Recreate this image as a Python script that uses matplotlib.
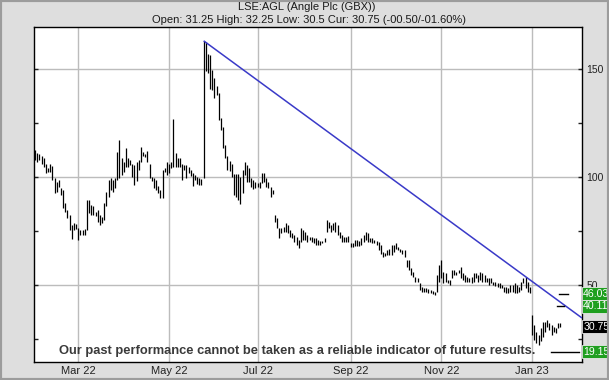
import numpy as np
import pandas as pd
import matplotlib
matplotlib.use('Agg')
import matplotlib.pyplot as plt
import matplotlib.transforms as mtransforms
from matplotlib.patches import Rectangle

# daily bars (high, low) per month
bars_feb = [(112.5, 107.9), (111, 107), (110.7, 107.9), (110, 106), (108.7, 104.8),
            (106, 102), (104, 102.5), (106, 102.5), (105, 98.7), (99.4, 92.5),
            (97.9, 93.3), (98.7, 95.6), (94.8, 91.7), (94.1, 85.6), (87.9, 84),
            (84.8, 81), (82.5, 75.6), (77.9, 71.3), (78.7, 75.6), (78.3, 75.9)]
bars_mar = [(76.3, 71), (75.6, 73.3), (75.6, 73.3), (75.8, 73.3), (89.4, 75.6),
            (89.4, 83.3), (87.1, 82.5), (86.4, 82.5), (84, 81.8), (84.8, 79.4),
            (82.5, 77.9), (81.7, 78.7), (87.9, 80.2), (93.3, 86.4), (98.7, 91),
            (99.4, 94.1), (98.7, 93.3), (99.4, 94.8), (111.8, 98.7), (117.1, 99.4),
            (108.7, 100.9), (107.2, 102.5), (113.3, 104.8)]
bars_apr = [(108.7, 104.8), (107.9, 105.6), (106.2, 100.1), (105.5, 96.2), (107, 98),
            (107.8, 103.2), (114, 107), (111.6, 109.6), (110.8, 109.3), (112, 107),
            (106, 99.5), (100, 98), (99.6, 95), (98.8, 94.2), (95.7, 92.7),
            (94.2, 90.4), (103.4, 90.4), (104, 102.5), (107, 101)]
bars_may = [(106.2, 101.8), (107, 104), (127, 104.8), (111, 104.8), (108.7, 104.8),
            (108.7, 104.8), (106.2, 98.7), (105.5, 103.2), (105.5, 99.6), (104.8, 101.8),
            (103.4, 100.3), (101.8, 95.7), (101, 98.8), (100.1, 97), (99.6, 96.5),
            (99, 96.5), (163.1, 99.6), (162.6, 148.9), (157.2, 148), (156.5, 141),
            (149.6, 140.3)]
bars_jun = [(145.8, 136.5), (142, 138), (138.8, 126.5), (127.2, 121.8), (123.4, 113.4),
            (115, 108.9), (109.6, 103.4), (107.3, 102.7), (106.2, 100.1), (101.6, 91.6),
            (101.6, 90.8), (101.6, 89.3), (100, 87.7), (103.3, 92.6), (107.1, 101),
            (105.6, 97.9), (104.1, 97.9), (99.4, 95.6), (98.7, 94.4), (97.9, 94.8)]
bars_jul = [(97.2, 95.3), (97.9, 94.8), (101.8, 97.2), (101.8, 97.9), (99.4, 95.6),
            (97.9, 94.8), (95.6, 91), (94.1, 92), (82.5, 79.4), (80.9, 76.3),
            (76.3, 71.7), (76.3, 74), (77.1, 74.8), (78.6, 74.8), (77.8, 74),
            (75.5, 72.4), (74, 71.7), (73.2, 70.1), (72.4, 68.6), (70.9, 67.1),
            (76.3, 70.1)]
bars_aug = [(75.5, 70.9), (74.8, 70.9), (73.2, 70.1), (72.4, 70.9), (72.4, 70.1),
            (71.7, 69.4), (71.7, 68.6), (70.9, 68.6), (70.5, 68.6), (70.5, 69.4),
            (71.7, 70.1), (80.1, 74.8), (79.3, 76.3), (77.8, 74.8), (78.6, 75.5),
            (79.3, 74.8), (77.8, 73.2), (74.8, 71.7), (73.2, 70.1), (72.4, 70.1),
            (72.4, 70.1), (72.8, 70.1)]
bars_sep = [(69.3, 67.7), (69.3, 67.7), (70.8, 68), (70.8, 68), (70.5, 68),
            (71.6, 68.5), (73.1, 70), (74.6, 70.8), (73.9, 70), (71.6, 70),
            (71.6, 69.3), (71, 69.3), (70.5, 68.5), (70, 66.2), (68.5, 64.6),
            (65.4, 63.1), (65, 63.5), (66.2, 63.8), (66.9, 63.8), (68.5, 63.8),
            (68.5, 65.4)]
bars_oct = [(69.3, 66.9), (67.7, 66.2), (66.9, 65.4), (66.2, 64.6), (66.2, 63.1),
            (61.6, 58.5), (61.6, 57), (57.7, 54.6), (56.2, 53.9), (53.9, 51.5),
            (53.1, 51.5), (50.8, 47.7), (49.2, 46.9), (48.5, 46.9), (48.5, 46.9),
            (48, 46.5), (47.7, 46.2), (47.5, 46), (46.9, 45.4), (54.6, 46.9),
            (59.3, 51.5)]
bars_nov = [(61.6, 53.1), (56.2, 50.8), (55.4, 51.5), (52.3, 50.8), (52.3, 50),
            (57, 53.1), (57, 54.6), (56.2, 54.6), (57, 55.4), (58.5, 53.1),
            (55.4, 52.3), (54.6, 51.5), (53.9, 51.5), (53.1, 51.5), (53.9, 50.8),
            (55.4, 51.5), (55.4, 53.1), (54.6, 51.5), (56.2, 52.3), (55.4, 51.5),
            (54.6, 51.5), (53.1, 51.5)]
bars_dec = [(53.1, 50), (53.1, 50.8), (51.5, 50), (51.5, 49.5), (50.8, 49.2),
            (50.8, 48.5), (50, 48.5), (49.2, 46.9), (49.2, 46.2), (48.5, 46.2),
            (50, 46.9), (50, 46.9), (50.8, 46.2), (50, 46.2), (49.2, 46.9),
            (51.5, 47.7), (53.1, 50.8), (53.9, 48.5), (51.5, 46.9), (49.2, 46.2)]
bars_jan = [(36.1, 26.9), (31.5, 24.6), (28.5, 23.1), (26.9, 22.3), (30, 23.9),
            (33.1, 26.2), (33.1, 28.5), (33.9, 30.8), (32.3, 29.2), (31.5, 26.9),
            (30.8, 28.5), (30, 27.7), (32.3, 30), (32.25, 30.5)]

uk_holidays = ['2022-04-15', '2022-04-18', '2022-05-02', '2022-06-02', '2022-06-03',
               '2022-08-29', '2022-09-19', '2022-12-26', '2022-12-27', '2023-01-02']
tick_months = ['2022-03-01', '2022-05-01', '2022-07-01', '2022-09-01', '2022-11-01', '2023-01-01']

# trend line anchors (spike high, late-Dec touch)
trend_dates = ['2022-05-25', '2022-12-28']
trend_vals = [163.1, 53.9]

levels_green = [46.03, 40.11]
level_cur = 30.75
level_low = 19.15

title = 'LSE:AGL (Angle Plc (GBX))'
subtitle = 'Open: 31.25 High: 32.25 Low: 30.5 Cur: 30.75 (-00.50/-01.60%)'
disclaimer = 'Our past performance cannot be taken as a reliable indicator of future results.'

bars = (bars_feb + bars_mar + bars_apr + bars_may + bars_jun + bars_jul +
        bars_aug + bars_sep + bars_oct + bars_nov + bars_dec + bars_jan)
highs = np.array([b[0] for b in bars])
lows = np.array([b[1] for b in bars])
n = len(bars)
dates = pd.bdate_range('2022-02-01', periods=n, freq='C', holidays=uk_holidays)
x = np.arange(n)

plt.rcParams['font.family'] = ['Liberation Sans', 'DejaVu Sans']

fig = plt.figure(figsize=(6.09, 3.80), dpi=100, facecolor='#dedede')
fig.patches.append(Rectangle((0, 0), 1, 1, transform=fig.transFigure, fill=False,
                             edgecolor='#9c9c9c', lw=3))
ax = fig.add_axes([34 / 609, 18 / 380, 548 / 609, 335 / 380])
ax.set_facecolor('white')

ax.vlines(x, lows, highs, color='black', lw=0.9, zorder=3)

# trend line extended to the right edge
xmin, xmax = -0.5, 253.1
ti = [dates.get_loc(pd.Timestamp(d)) for d in trend_dates]
slope = (trend_vals[1] - trend_vals[0]) / (ti[1] - ti[0])
ax.plot([ti[0], xmax], [trend_vals[0], trend_vals[0] + slope * (xmax - ti[0])],
        color='#3a3ac8', lw=1.1, zorder=4, solid_capstyle='butt')

ax.set_xlim(xmin, xmax)
ax.set_ylim(14.4, 169.5)

tick_pos = [int(np.searchsorted(dates, pd.Timestamp(m))) for m in tick_months]
tick_lab = [dates[p].strftime('%b %y') for p in tick_pos]
ax.set_xticks(tick_pos)
ax.set_xticklabels(tick_lab)
ax.tick_params(axis='x', length=0, pad=3, labelsize=8, colors='#222222')

ax.yaxis.tick_right()
ax.set_yticks([50, 100, 150])
ax.set_yticks([25, 75, 125], minor=True)
ax.tick_params(axis='y', which='both', direction='in', left=True, right=True,
               labelleft=False, labelright=True, length=3, width=1, pad=3,
               labelsize=7.5, colors='#222222')
ax.grid(True, which='major', color='#bcbcbc', lw=1)
ax.set_axisbelow(True)
for s in ax.spines.values():
    s.set_color('black')
    s.set_linewidth(1)

# target levels: short markers plus boxed labels on the right
blend = mtransforms.blended_transform_factory(ax.transAxes, ax.transData)
ax.plot([0.958, 0.974], [levels_green[0]] * 2, color='black', lw=1, transform=blend, zorder=4)
ax.plot([0.954, 0.967], [levels_green[1]] * 2, color='black', lw=1, transform=blend, zorder=4)
ax.plot([0.943, 0.995], [level_low] * 2, color='black', lw=1, transform=blend, zorder=4)

box_h = 6.2
for val, col in [(levels_green[0], '#1f9f1f'), (levels_green[1], '#1f9f1f'),
                 (level_cur, 'black'), (level_low, '#1f9f1f')]:
    ax.add_patch(Rectangle((1.0, val - box_h / 2), 0.05, box_h, transform=blend,
                           facecolor=col, edgecolor='#e8e8e8', lw=0.6, clip_on=False, zorder=6))
    ax.text(1.002, val, f'{val:.2f}', transform=blend, ha='left', va='center',
            color='white', fontsize=7.6, clip_on=False, zorder=7)

ax.text(0.481, 0.032, disclaimer, transform=ax.transAxes, ha='center', va='center',
        fontsize=9.3, fontweight='bold', color='#3a3a3a', zorder=5)

fig.text(0.504, 1 - 6.5 / 380, title, ha='center', va='center', fontsize=8, color='#1a1a1a')
fig.text(0.507, 1 - 20 / 380, subtitle, ha='center', va='center', fontsize=8, color='#1a1a1a')

fig.savefig('out.png', dpi=100, facecolor=fig.get_facecolor())
